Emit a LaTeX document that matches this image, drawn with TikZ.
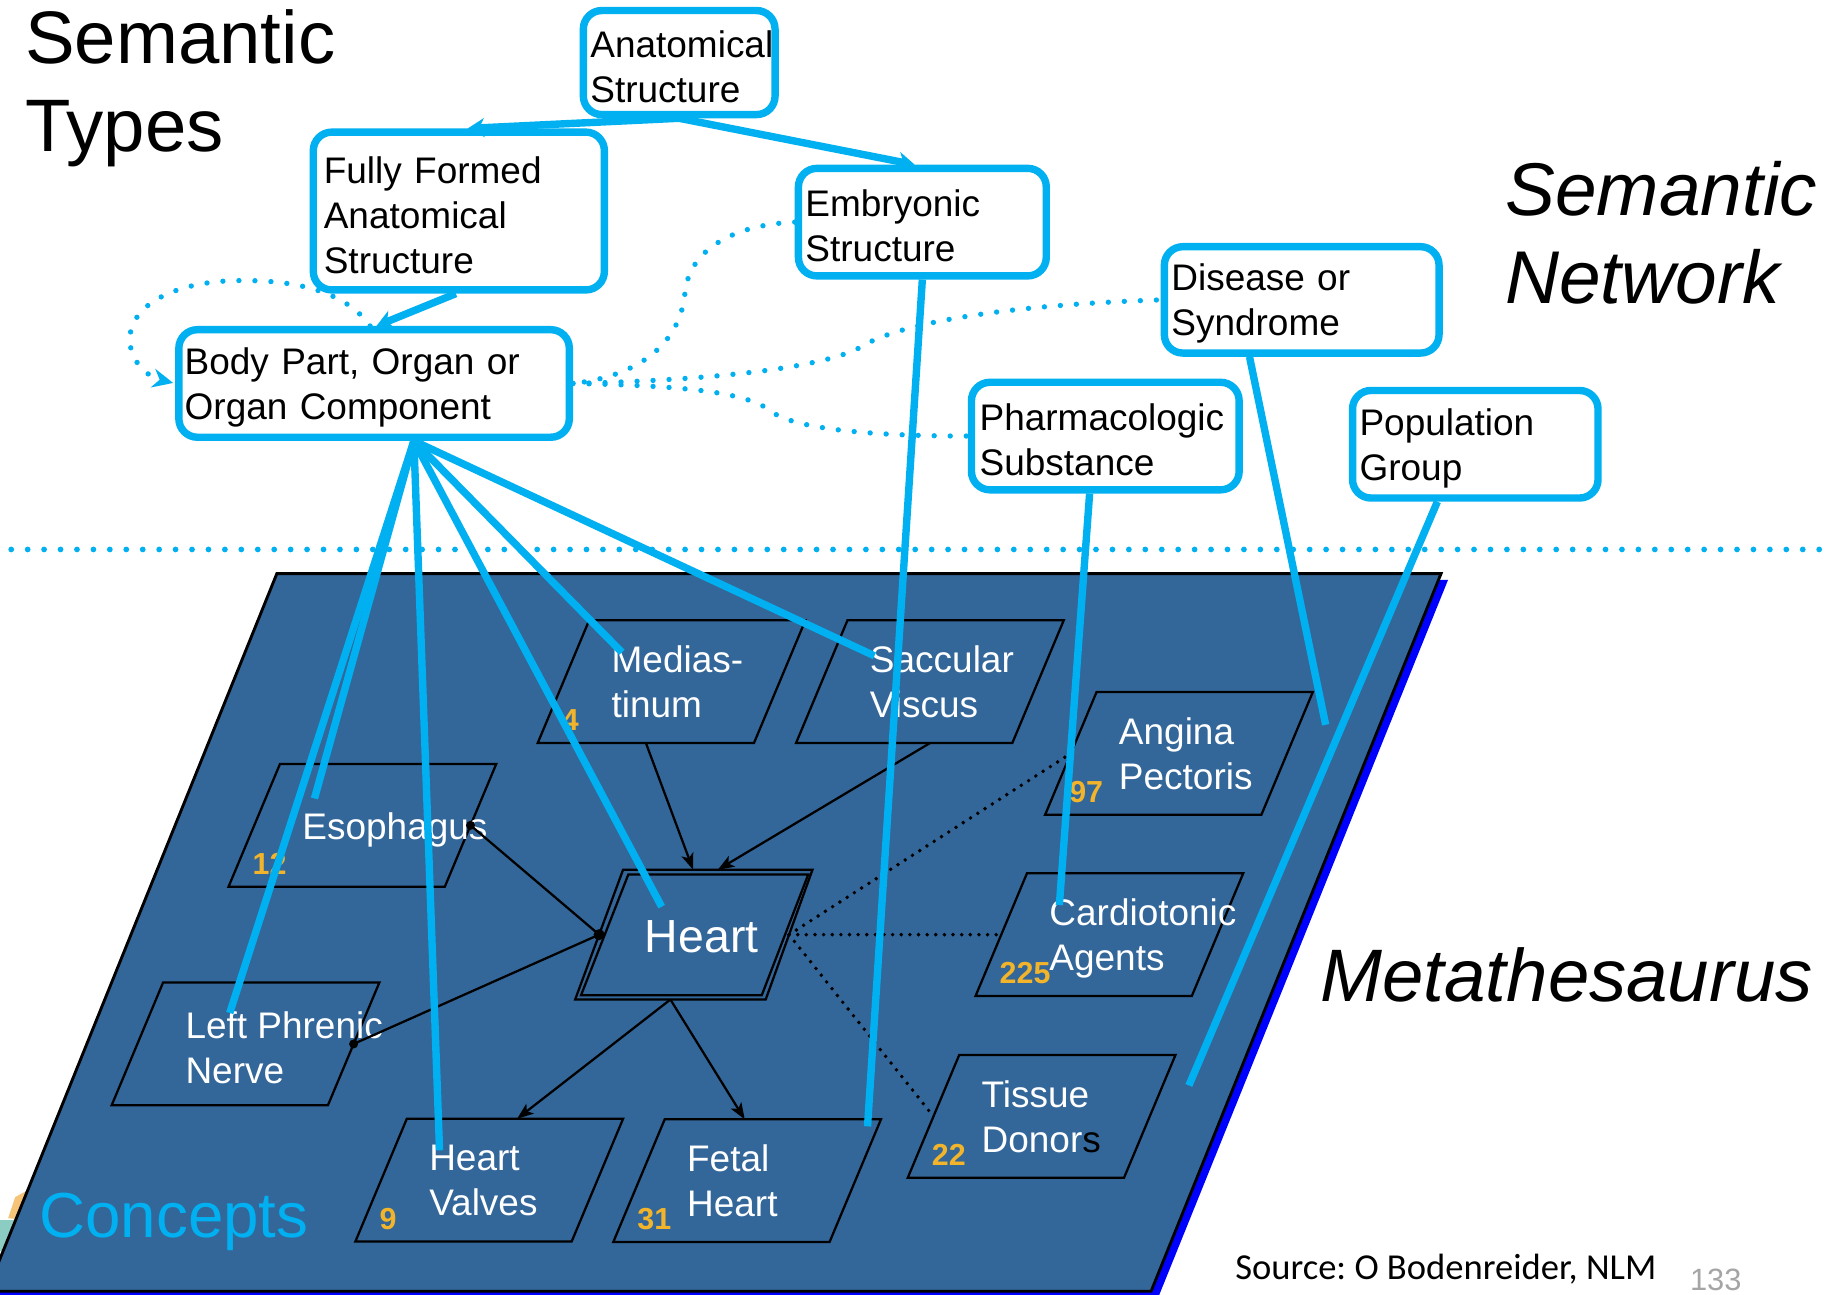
\documentclass[tikz,border=0pt]{standalone}
\usepackage{fontspec}
\setmainfont{Liberation Sans}
\newfontfamily\srcfont{Carlito}
\usetikzlibrary{calc,arrows.meta}
\frenchspacing

\definecolor{umlscyan}{RGB}{0,176,240}
\definecolor{panelblue}{RGB}{51,102,153}
\definecolor{shadowblue}{RGB}{0,0,255}
\definecolor{countgold}{RGB}{242,180,42}
\definecolor{pagegray}{RGB}{165,165,165}
\definecolor{scrapteal}{RGB}{140,205,195}
\definecolor{scraporange}{RGB}{245,196,120}

\def\pxu{0.2845}

\tikzset{
  stbox/.style={draw=umlscyan, line width=1.8pt, rounded corners=4.5pt, fill=white,
    align=left, inner ysep=0pt, text=black, font=\fontsize{9}{10.95}\selectfont},
  panel/.style={draw=black, line width=0.7pt, fill=panelblue},
  cbox/.style={draw=black, line width=0.55pt, fill=panelblue},
  clabel/.style={text=white, align=left, inner sep=0pt, font=\fontsize{9}{10.95}\selectfont},
  cnum/.style={text=countgold, inner sep=0pt, font=\fontsize{7.4}{8}\selectfont\bfseries},
  netline/.style={draw=umlscyan, line width=1.8pt},
  netarrow/.style={netline, -{Stealth[length=4pt,width=4.6pt,inset=1.2pt]}},
  netdots/.style={draw=umlscyan, line width=1.3pt, line cap=round, dash pattern=on 0pt off 3.9pt},
  relarrow/.style={draw=black, line width=0.55pt, -{Stealth[length=4pt,width=3pt,inset=1pt]}},
  relplain/.style={draw=black, line width=0.55pt},
  reldots/.style={draw=black, line width=0.95pt, line cap=round, dash pattern=on 0pt off 2.1pt},
  title/.style={anchor=base west, inner sep=0pt, text=black},
}

% semantic type box: name, x1, y1, x2, y2, text inset, text
\newcommand\semtype[7]{%
  \pgfmathsetmacro\stW{(#4-#2)*\pxu}%
  \pgfmathsetmacro\stH{(#5-#3)*\pxu}%
  \pgfmathsetmacro\stI{#6*\pxu}%
  \pgfmathsetmacro\stT{\stW-2*\stI}%
  \node[stbox, minimum width=\stW pt, minimum height=\stH pt, inner xsep=\stI pt,
        text width=\stT pt] (#1) at ({(#2+#4)/2},{(#3+#5)/2}) {\rule{0pt}{8.4pt}#7};%
}

% concept parallelogram: [label options], name, bottom-left x, bottom-left y, count, label
\newcommand\concept[6][]{%
  \draw[cbox] (#3,#4) coordinate (#2-bl) -- ++(185,0) coordinate (#2-br)
    -- ++(44,-105) coordinate (#2-tr) -- ++(-185,0) coordinate (#2-tl) -- cycle;
  \node[clabel, anchor=west, #1] (#2) at (#3+62.5,#4-52.5) {#6};
  \node[cnum, anchor=base west] (#2-n) at (#3+20,#4-10.5) {#5};
}

\begin{document}
\begin{tikzpicture}[x=0.2845pt, y=-0.2845pt]
\useasboundingbox (0,0) rectangle (1568,1107);
\clip (0,0) rectangle (1568,1107);
\fill[white] (0,0) rectangle (1568,1107);

% scraps of artwork peeking out at the lower left
\fill[scrapteal] (0,1044) rectangle (14,1070);
\fill[scraporange] (7,1042) -- (13,1024) -- (24,1018) -- (24,1044) -- cycle;

% Metathesaurus plane with its shadow
\fill[shadowblue] (242.8,496) -- (1238.7,496) -- (990.7,1110) -- (-5.2,1110) -- cycle;
\draw[panel] (236.8,490.7) -- (1232.7,490.7) -- (984.7,1104.5) -- (-11.2,1104.5) -- cycle;

% boundary between the two layers
\draw[netdots, line width=1.4pt, dash pattern=on 0pt off 4pt] (9.6,470) -- (1558,470);

% concepts
\concept{med}{460}{635.5}{4}{Medias-\\tinum}
\concept{sac}{681}{635.5}{}{Saccular\\Viscus}
\concept{ang}{894}{697}{97}{Angina\\Pectoris}
\concept[yshift=-1.1pt]{eso}{195.5}{758.5}{12}{Esophagus}
\concept[yshift=-0.9pt]{car}{834.5}{852}{225}{Cardiotonic\\Agents}
\concept[yshift=-0.9pt]{lpn}{95.5}{945.5}{}{Left Phrenic\\Nerve}
\concept{tis}{776.5}{1007.5}{22}{Tissue\\Donor{\color{black}s}}
\concept{hva}{304}{1062}{9}{Heart\\Valves}
\concept{fet}{524.6}{1062.5}{31}{Fetal\\Heart}

% the central concept, double outline
\draw[cbox] (492,855) coordinate (hrt-bl) -- (655,855) coordinate (hrt-br)
  -- (695,744) coordinate (hrt-tr) -- (533,744) coordinate (hrt-tl) -- cycle;
\draw[relplain] (497,851.4) -- (651.6,851.4) -- (691.4,748) -- (537.5,748) -- cycle;
\node[anchor=base west, inner sep=0pt, text=white, font=\fontsize{11.3}{13}\selectfont] (hrt) at (551,814.7) {Heart};

% concept relationships
\draw[relarrow] ($(med-bl)!0.5!(med-br)$) -- ($(hrt-tl)!0.37!(hrt-tr)$);
\draw[relarrow] ($(sac-bl)!0.62!(sac-br)$) -- ($(hrt-tl)!0.5!(hrt-tr)$);
\draw[relarrow] ($(hrt-bl)!0.5!(hrt-br)$) -- ($(hva-tl)!0.51!(hva-tr)$);
\draw[relarrow] ($(hrt-bl)!0.5!(hrt-br)$) -- ($(fet-tl)!0.37!(fet-tr)$);
\draw[relplain] ($(eso-br)!0.5!(eso-tr)$) coordinate (eso-j) -- ($(hrt-bl)!0.5!(hrt-tl)$) coordinate (hrt-j);
\draw[relplain] ($(lpn-br)!0.5!(lpn-tr)$) coordinate (lpn-j) -- (hrt-j);
\fill (eso-j) circle[radius=1.1pt];
\fill (lpn-j) circle[radius=1.1pt];
\fill (hrt-j) circle[radius=1.35pt];
\draw[reldots] ($(hrt-br)!0.5!(hrt-tr)$) -- ($(ang-bl)!0.5!(ang-tl)$);
\draw[reldots] ($(hrt-br)!0.5!(hrt-tr)$) -- ($(car-bl)!0.5!(car-tl)$);
\draw[reldots] ($(hrt-br)!0.5!(hrt-tr)$) -- ($(tis-bl)!0.5!(tis-tl)$);

% semantic types
\semtype{anat}{499}{9}{663}{98}{6}{Anatomical\\Structure}
\semtype{ff}{268}{113}{517}{248}{9}{Fully Formed\\Anatomical\\Structure}
\semtype{emb}{683}{144}{895}{236}{6}{Embryonic\\Structure}
\semtype{bp}{153}{282}{487}{374}{5}{Body Part, Organ or\\Organ Component}
\semtype{dis}{996}{211}{1231}{302}{6}{Disease or\\Syndrome}
\semtype{pha}{831}{327}{1060}{419}{7}{Pharmacologic\\Substance}
\semtype{pop}{1157}{334}{1367}{426}{6}{Population\\Group}

% is-a hierarchy
\draw[netarrow] (anat.south) -- ($(ff.north west)!0.53!(ff.north east)$);
\draw[netarrow] (anat.south) -- ($(emb.north west)!0.47!(emb.north east)$);
\draw[netarrow] ($(ff.south west)!0.49!(ff.south east)$) -- ($(bp.north west)!0.506!(bp.north east)$);

% non-hierarchical relations
\draw[netdots, -{Stealth[length=5pt,width=4.6pt]}, shorten >=0.5pt]
  ($(bp.north west)!0.49!(bp.north east)$) .. controls (300,255) and (265,240) .. (210,240)
  .. controls (160,239) and (112,256) .. (111,290)
  .. controls (111,308) and (125,322) .. (bp.west);
\draw[netdots] (emb.west) .. controls (630,192) and (590,212) .. (586,250)
  .. controls (582,295) and (545,322) .. (bp.east);
\draw[netdots] (bp.east) .. controls (580,326) and (700,318) .. (738,296)
  .. controls (760,282) and (830,262) .. (dis.west);
\draw[netdots] (bp.east) .. controls (590,330) and (640,336) .. (660,352)
  .. controls (678,366) and (740,373) .. (pha.west);

% semantic types assigned to concepts
\path ($(bp.south west)!0.6!(bp.south east)$) coordinate (bpfan);
\draw[netline] (bpfan) -- ([shift={(28,27.5)}]med-tl);
\draw[netline] (bpfan) -- ([shift={(23,30.5)}]sac-tl);
\draw[netline] (bpfan) -- ([shift={(33,31.6)}]hrt-tl);
\draw[netline] (bpfan) -- ([shift={(28,27)}]hva-tl);
\draw[netline] (bpfan) -- ([shift={(29.5,29.5)}]eso-tl);
\draw[netline] (bpfan) -- ([shift={(57,26)}]lpn-tl);
\draw[netline] (emb.south) -- ([shift={(-11.5,6)}]fet-tr);
\draw[netline] ($(pha.south west)!0.443!(pha.south east)$) -- ([shift={(27.7,27.2)}]car-tl);
\draw[netline] ($(dis.south west)!0.315!(dis.south east)$) -- ([shift={(11,28)}]ang-tr);
\draw[netline] ($(pop.south west)!0.35!(pop.south east)$) -- ([shift={(11.5,26)}]tis-tr);

% layer titles
\node[title, font=\fontsize{18.1}{21.5}\selectfont] (st1) at (21,54.2) {Semantic};
\node[title, font=\fontsize{18.1}{21.5}\selectfont] (st2) at (21,129.8) {Types};
\node[title, font=\fontsize{18.2}{21.5}\selectfont\itshape] (sn1) at (1287,183.9) {Semantic};
\node[title, font=\fontsize{18.2}{21.5}\selectfont\itshape] (sn2) at (1287,260) {Network};
\node[title, font=\fontsize{18.1}{21.5}\selectfont\itshape] (meta) at (1129,856.7) {Metathesaurus};
\node[title, text=umlscyan, font=\fontsize{15.5}{18}\selectfont] (conc) at (33,1058.4) {Concepts};
\node[title, font=\srcfont\fontsize{8.9}{10}\selectfont] (src) at (1056,1094.5) {Source: O Bodenreider, NLM};
\node[title, text=pagegray, font=\fontsize{7.5}{9}\selectfont] (page) at (1445,1103.5) {133};
\end{tikzpicture}
\end{document}
